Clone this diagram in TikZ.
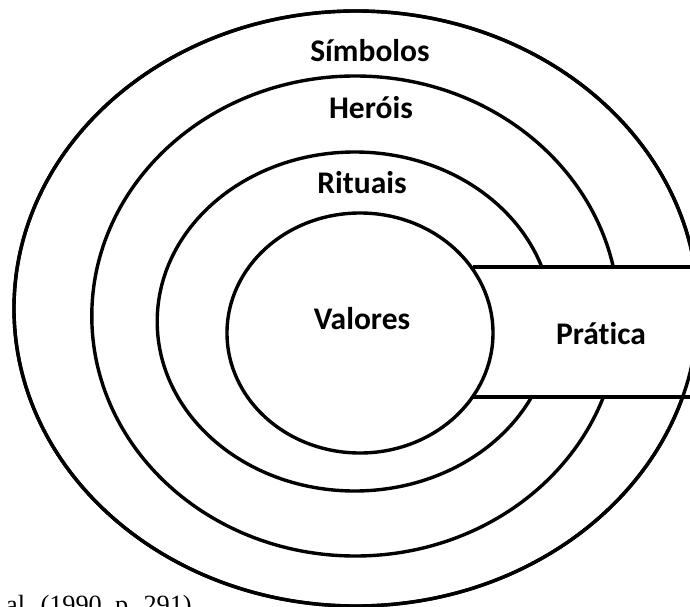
\documentclass[tikz,border=0pt]{standalone}
\usepackage{fontspec}
\setmainfont{Liberation Serif}
\newfontfamily\labelfont[Ligatures=NoCommon]{Carlito}
\usetikzlibrary{shapes.geometric}
\begin{document}
\begin{tikzpicture}[x=1pt,y=-1pt,
  ring/.style={ellipse, draw, line width=3.4pt, inner sep=0pt, outer sep=0pt},
  lbl/.style={anchor=base, inner sep=0pt, font=\labelfont\bfseries\fontsize{31.5}{38}\selectfont},
  edge/.style={line width=3.4pt}]
  \useasboundingbox (0,0) rectangle (690,607);
  \clip (0,0) rectangle (690,607);

  % layers of the onion, outside to inside
  \node[ring, minimum width=684pt, minimum height=595pt] (simb) at (356,308.5) {};
  \node[ring, minimum width=527pt, minimum height=480pt] (hero) at (355.3,316) {};
  \node[ring, minimum width=395pt, minimum height=339pt] (ritu) at (354.7,321.5) {};

  % band of practices cutting through the rings
  \coordinate (tl) at (473,267);
  \coordinate (bl) at (473,397);
  \coordinate (tr) at (700,267);
  \coordinate (br) at (700,397);
  \fill[white] (440,267) rectangle (700,397);
  \draw[edge] (tl) -- (tr);
  \draw[edge] (bl) -- (br);

  % redraw outer ring over the band and the core on top
  \node[ring, minimum width=684pt, minimum height=595pt] (simb2) at (356,308.5) {};
  \node[ring, fill=white, minimum width=266pt, minimum height=240pt] (valo) at (360,333) {};

  % labels
  \node[lbl] (tsimb) at (370,62) {Símbolos};
  \node[lbl] (thero) at (371,118) {Heróis};
  \node[lbl] (tritu) at (362,193) {Rituais};
  \node[lbl] (tvalo) at (362,329) {Valores};
  \node[lbl] (tprat) at (601,344) {Prática};

  % source line
  \node[anchor=base west, inner sep=0pt, font=\fontsize{26.3}{30}\selectfont] (src) at (6,613) {al. (1990, p. 291)};
\end{tikzpicture}
\end{document}
